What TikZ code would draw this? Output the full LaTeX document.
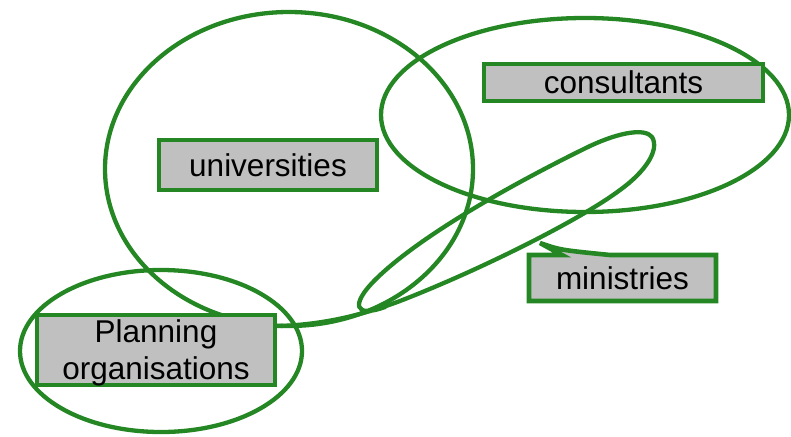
\documentclass[tikz,border=0pt]{standalone}
\usepackage{fontspec}
\setmainfont{Liberation Sans}
\definecolor{leaf}{RGB}{36,135,36}
\definecolor{boxgray}{RGB}{192,192,192}
\begin{document}
\begin{tikzpicture}[x=1pt,y=-1pt,
  ring/.style={draw=leaf,line width=4.3pt},
  label box/.style={draw=leaf,fill=boxgray,line width=4.6pt,inner sep=0pt,
    font=\fontsize{31.5}{37}\selectfont,text=black},
  lasso/.style={draw=leaf,line width=4.3pt,line join=round,line cap=round}]
\useasboundingbox (0,0) rectangle (791,436);

% overlapping groups
\draw[ring] (289,169) ellipse [x radius=184, y radius=157];
\draw[ring] (585,115) ellipse [x radius=204, y radius=97];
\draw[ring] (161,351) ellipse [x radius=141, y radius=81];

% ministries box with its pointer
\draw[label box,line join=miter]
  (529,255) -- (562,255) -- (540,243) .. controls (560,250) .. (610,255)
  -- (716,255) -- (716,301) -- (529,301) -- cycle;
\node[font=\fontsize{31.5}{37}\selectfont] (ministries) at (622.5,278) {ministries};

% group labels
\node[label box,minimum width=279pt,minimum height=37pt] (consultants) at (623.5,82.5) {consultants};
\node[label box,minimum width=218pt,minimum height=50pt] (universities) at (268,165) {universities};
\node[label box,minimum width=238pt,minimum height=70pt,align=center,text depth=0pt] (planning) at (156,350) {Planning\\organisations};

% looped stroke leaving the planning box
\draw[lasso] ([yshift=24pt]planning.east)
  .. controls (320,325) and (360,316) .. (400,301)
  .. controls (480,270) and (580,220) .. (620,190)
  .. controls (645,172) and (660,150) .. (652,137)
  .. controls (645,128) and (620,132) .. (590,146)
  .. controls (520,180) and (420,235) .. (375,280)
  .. controls (350,305) and (355,318) .. (385,307);
\end{tikzpicture}
\end{document}
